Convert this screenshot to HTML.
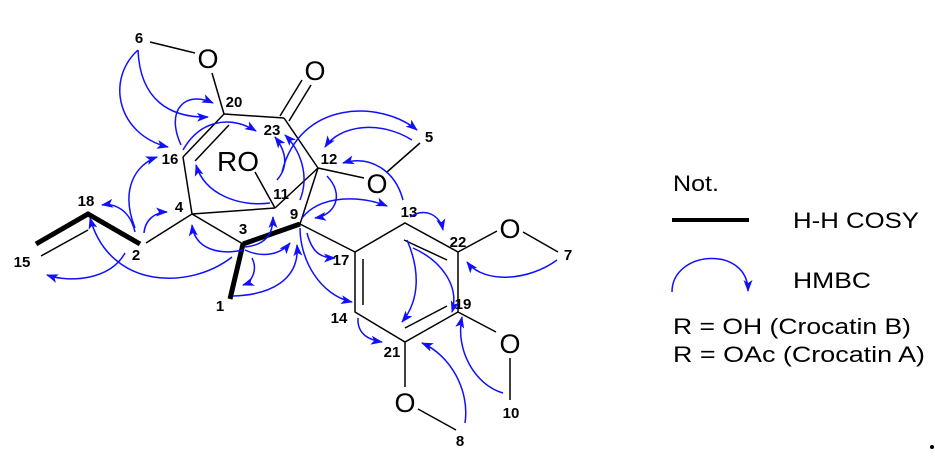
<!DOCTYPE html>
<html><head><meta charset="utf-8"><style>
body{margin:0;background:#fff;width:935px;height:458px;overflow:hidden}
svg{display:block}
.l{stroke:#000;stroke-width:1.5;fill:none}
.b{stroke:#000;stroke-width:5;fill:none}
.a{stroke:#1010ff;stroke-width:1.5;fill:none;marker-end:url(#ah)}
.n{font-family:"Liberation Sans",sans-serif;font-weight:bold;font-size:15px;fill:#000;text-anchor:middle}
.o{font-family:"Liberation Sans",sans-serif;font-size:27px;fill:#000;text-anchor:middle}
.t{font-family:"Liberation Sans",sans-serif;font-size:22px;fill:#000}
</style></head><body>
<svg width="935" height="458" viewBox="0 0 935 458">
<defs><marker id="ah" markerWidth="12" markerHeight="9" refX="11" refY="4.5" orient="auto" markerUnits="userSpaceOnUse"><path d="M0,0 L12,4.5 L0,9 L3,4.5 Z" fill="#1010ff"/></marker></defs>
<!-- bonds -->
<line class="l" x1="150" y1="42" x2="195" y2="53"/>
<line class="l" x1="212" y1="73" x2="224" y2="114"/>
<line class="l" x1="224" y1="114" x2="284" y2="118"/>
<line class="l" x1="280" y1="116" x2="302" y2="80"/>
<line class="l" x1="289" y1="121" x2="311" y2="85"/>
<line class="l" x1="224" y1="114" x2="183" y2="157"/>
<line class="l" x1="229" y1="125" x2="195" y2="161"/>
<line class="l" x1="284" y1="118" x2="318" y2="168"/>
<line class="l" x1="318" y1="168" x2="364" y2="178"/>
<line class="l" x1="387" y1="172" x2="420" y2="143"/>
<line class="l" x1="183" y1="157" x2="192" y2="214"/>
<line class="l" x1="192" y1="214" x2="275" y2="208"/>
<line class="l" x1="275" y1="208" x2="318" y2="168"/>
<line class="l" x1="255" y1="172" x2="275" y2="208"/>
<line class="l" x1="318" y1="168" x2="300" y2="224"/>
<line class="l" x1="192" y1="214" x2="243" y2="244"/>
<line class="l" x1="192" y1="214" x2="146" y2="243"/>
<line class="b" x1="243" y1="244" x2="300" y2="224"/>
<line class="b" x1="243" y1="244" x2="230" y2="299"/>
<polyline class="b" points="140,244 88,214 36,244"/>
<line class="l" x1="88" y1="230" x2="41" y2="256"/>
<line class="l" x1="300" y1="224" x2="355" y2="252"/>
<polygon class="l" points="355,252 405,223 458,252 458,312 405,342 355,312"/>
<line class="l" x1="404" y1="240" x2="447" y2="260"/>
<line class="l" x1="363" y1="259" x2="363" y2="305"/>
<line class="l" x1="447" y1="306" x2="405" y2="328"/>
<line class="l" x1="458" y1="252" x2="497" y2="231"/>
<line class="l" x1="523" y1="232" x2="558" y2="252"/>
<line class="l" x1="458" y1="312" x2="496" y2="332"/>
<line class="l" x1="510" y1="358" x2="510" y2="400"/>
<line class="l" x1="405" y1="342" x2="405" y2="387"/>
<line class="l" x1="418" y1="409" x2="456" y2="430"/>
<!-- atoms -->
<text class="o" x="208" y="68">O</text>
<text class="o" x="315" y="80">O</text>
<text class="o" x="377" y="193">O</text>
<text class="o" x="510" y="238">O</text>
<text class="o" x="510" y="353">O</text>
<text class="o" x="405" y="412">O</text>
<text class="o" x="238" y="171" style="font-size:28px">RO</text>
<text class="n" x="139" y="43">6</text>
<text class="n" x="234" y="107">20</text>
<text class="n" x="272" y="135">23</text>
<text class="n" x="170" y="164">16</text>
<text class="n" x="329" y="164">12</text>
<text class="n" x="429" y="142">5</text>
<text class="n" x="179" y="212">4</text>
<text class="n" x="281" y="199">11</text>
<text class="n" x="294" y="219">9</text>
<text class="n" x="243" y="234">3</text>
<text class="n" x="86" y="206">18</text>
<text class="n" x="136" y="260">2</text>
<text class="n" x="22" y="267">15</text>
<text class="n" x="220" y="311">1</text>
<text class="n" x="341" y="265">17</text>
<text class="n" x="409" y="217">13</text>
<text class="n" x="458" y="247">22</text>
<text class="n" x="568" y="260">7</text>
<text class="n" x="463" y="309">19</text>
<text class="n" x="339" y="323">14</text>
<text class="n" x="392" y="357">21</text>
<text class="n" x="511" y="418">10</text>
<text class="n" x="460" y="446">8</text>
<!-- HMBC arrows -->
<path class="a" d="M138,50 C140,100 170,118 208,117"/>
<path class="a" d="M138,50 C105,80 118,135 168,147"/>
<path class="a" d="M181,145 C165,110 185,90 213,103"/>
<path class="a" d="M183,150 C200,120 230,115 256,131"/>
<path class="a" d="M270,203 C240,207 205,195 196,165"/>
<path class="a" d="M277,180 C290,165 285,150 275,137"/>
<path class="a" d="M300,200 C310,175 300,150 285,135"/>
<path class="a" d="M282,172 C300,100 380,100 417,130"/>
<path class="a" d="M412,140 C380,120 340,125 325,147"/>
<path class="a" d="M403,200 C395,170 370,155 343,163"/>
<path class="a" d="M327,176 C345,195 335,215 315,218"/>
<path class="a" d="M302,218 C320,195 360,195 387,206"/>
<path class="a" d="M410,217 C425,207 440,215 443,230"/>
<path class="a" d="M144,233 C145,220 155,212 167,212"/>
<path class="a" d="M135,232 C130,210 115,203 102,205"/>
<path class="a" d="M135,228 C120,190 135,165 157,157"/>
<path class="a" d="M125,253 C110,280 70,283 47,275"/>
<path class="a" d="M232,257 C190,290 110,290 90,218"/>
<path class="a" d="M243,250 C220,255 195,250 192,225"/>
<path class="a" d="M245,247 C265,245 273,235 273,217"/>
<path class="a" d="M245,250 C262,258 280,255 290,243"/>
<path class="a" d="M252,258 C258,270 252,282 243,285"/>
<path class="a" d="M233,296 C270,295 300,280 297,245"/>
<path class="a" d="M307,233 C312,252 320,258 335,258"/>
<path class="a" d="M300,228 C300,260 320,295 352,302"/>
<path class="a" d="M358,318 C357,335 370,340 382,342"/>
<path class="a" d="M407,240 C420,270 420,300 402,322"/>
<path class="a" d="M413,248 C440,260 460,285 452,312"/>
<path class="a" d="M557,260 C530,280 485,285 467,262"/>
<path class="a" d="M503,393 C475,385 455,350 462,317"/>
<path class="a" d="M465,423 C470,390 450,355 422,343"/>
<!-- legend -->
<text class="t" x="673" y="191" textLength="46" lengthAdjust="spacingAndGlyphs">Not.</text>
<line x1="672" y1="220" x2="749" y2="220" stroke="#000" stroke-width="4"/>
<text class="t" x="793" y="228" textLength="126" lengthAdjust="spacingAndGlyphs">H-H COSY</text>
<path class="a" d="M672,292 C672,250 748,245 748,291"/>
<text class="t" x="793" y="288" textLength="78" lengthAdjust="spacingAndGlyphs">HMBC</text>
<text class="t" x="673" y="334" textLength="238" lengthAdjust="spacingAndGlyphs">R = OH (Crocatin B)</text>
<text class="t" x="673" y="362" textLength="252" lengthAdjust="spacingAndGlyphs">R = OAc (Crocatin A)</text>
<circle cx="932" cy="447" r="2" fill="#000"/>
</svg>
</body></html>
